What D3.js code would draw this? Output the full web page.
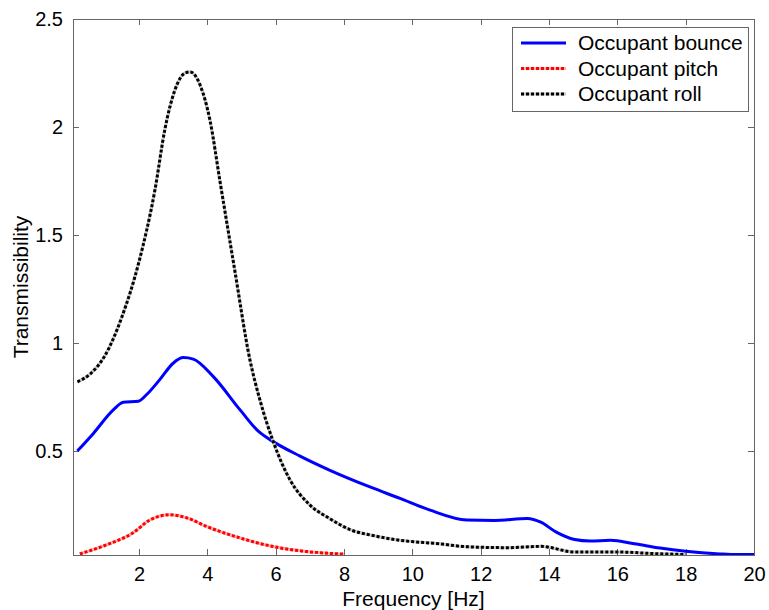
<!DOCTYPE html>
<html lang="en">
<head>
  <meta charset="UTF-8">
  <title>Transmissibility</title>
  <script src="https://d3js.org/d3.v7.min.js"></script>
  <style>
    body { margin: 0; background: #fff; }
    .axis path, .axis line { fill: none; stroke: #666; shape-rendering: crispEdges; }
    .axis text { font-family: Arial, "Liberation Sans", sans-serif; font-size: 20px; fill: #000; }
    .label { font-family: Arial, "Liberation Sans", sans-serif; font-size: 21px; fill: #000; }
    .legend text { font-family: Arial, "Liberation Sans", sans-serif; font-size: 21px; fill: #000; }
  </style>
</head>
<body>
  <div id="app"></div>
  <script>
    // bounce curve
    var bounceX = [0.2, 0.66, 1.25, 1.54, 1.98, 2.22, 2.61, 3.0, 3.3, 3.59, 4.17, 4.96, 5.5, 5.93, 6.7, 7.59, 8.76, 9.64, 10.5, 11.6, 12.4, 13.37, 13.76, 14.2, 14.75, 15.2, 15.8, 16.5, 17.25, 18, 19, 19.5, 20];
    var bounceY = [0.5, 0.58, 0.69, 0.725, 0.73, 0.76, 0.83, 0.906, 0.932, 0.925, 0.845, 0.69, 0.59, 0.543, 0.477, 0.41, 0.333, 0.28, 0.227, 0.18, 0.178, 0.187, 0.17, 0.125, 0.09, 0.083, 0.086, 0.07, 0.05, 0.035, 0.023, 0.02, 0.02];

    // pitch curve
    var pitchX = [0.27, 1.05, 1.82, 2.32, 2.9, 3.4, 3.98, 4.96, 5.93, 6.9, 7.88, 8.0];
    var pitchY = [0.023, 0.065, 0.12, 0.18, 0.204, 0.19, 0.15, 0.097, 0.057, 0.034, 0.023, 0.022];

    // roll curve
    var rollX = [0.2, 0.6, 1.0, 1.5, 2.0, 2.47, 2.76, 3.05, 3.35, 3.5, 3.8, 4.08, 4.37, 4.8, 5.25, 5.54, 5.93, 6.42, 7.0, 7.6, 8.2, 8.85, 9.64, 10.8, 11.6, 12.8, 13.76, 14.75, 16, 17, 18];
    var rollY = [0.82, 0.86, 0.94, 1.12, 1.375, 1.71, 1.99, 2.17, 2.25, 2.255, 2.19, 2.03, 1.75, 1.34, 0.92, 0.736, 0.543, 0.366, 0.25, 0.185, 0.134, 0.108, 0.086, 0.07, 0.056, 0.052, 0.058, 0.032, 0.032, 0.025, 0.02];

    var xTicks = [2, 4, 6, 8, 10, 12, 14, 16, 18, 20];
    var yTicks = [0.5, 1, 1.5, 2, 2.5];
    var legendNames = ["Occupant bounce", "Occupant pitch", "Occupant roll"];

    var width = 769, height = 610;
    var margin = { left: 73, top: 19, right: 15, bottom: 55 };
    var g_width = width - margin.left - margin.right;
    var g_height = height - margin.top - margin.bottom;

    var svg = d3.select("#app").append("svg")
      .attr("width", width)
      .attr("height", height);

    var g = svg.append("g")
      .attr("transform", "translate(" + margin.left + "," + margin.top + ")");

    var x = d3.scaleLinear().domain([0.07, 20]).range([0, g_width]);
    var y = d3.scaleLinear().domain([0.018, 2.5]).range([g_height, 0]);

    g.append("clipPath").attr("id", "clip")
      .append("rect").attr("width", g_width).attr("height", g_height);

    // box
    g.append("rect")
      .attr("width", g_width).attr("height", g_height)
      .attr("fill", "none").attr("stroke", "#666")
      .attr("shape-rendering", "crispEdges");

    // axes, ticks inward on all sides
    g.append("g").attr("class", "axis")
      .attr("transform", "translate(0," + g_height + ")")
      .call(d3.axisBottom(x).tickValues(xTicks).tickSizeInner(-6).tickSizeOuter(0).tickPadding(12).tickFormat(d3.format("d")))
      .call(function (s) { s.select(".domain").remove(); });
    g.append("g").attr("class", "axis")
      .call(d3.axisTop(x).tickValues(xTicks).tickSizeInner(-6).tickSizeOuter(0).tickFormat(""))
      .call(function (s) { s.select(".domain").remove(); });
    g.append("g").attr("class", "axis")
      .call(d3.axisLeft(y).tickValues(yTicks).tickSizeInner(-6).tickSizeOuter(0).tickPadding(10).tickFormat(function (d) { return d; }))
      .call(function (s) { s.select(".domain").remove(); });
    g.append("g").attr("class", "axis")
      .attr("transform", "translate(" + g_width + ",0)")
      .call(d3.axisRight(y).tickValues(yTicks).tickSizeInner(-6).tickSizeOuter(0).tickFormat(""))
      .call(function (s) { s.select(".domain").remove(); });

    var line = function (xs, ys) {
      return d3.line()
        .x(function (d, i) { return x(xs[i]); })
        .y(function (d) { return y(d); })
        .curve(d3.curveMonotoneX)(ys);
    };

    var lines = g.append("g").attr("clip-path", "url(#clip)");

    lines.append("path").attr("d", line(bounceX, bounceY))
      .attr("fill", "none").attr("stroke", "#0000ff").attr("stroke-width", 3);

    lines.append("path").attr("d", line(pitchX, pitchY))
      .attr("fill", "none").attr("stroke", "#ffb0b0").attr("stroke-width", 3);
    lines.append("path").attr("d", line(pitchX, pitchY))
      .attr("fill", "none").attr("stroke", "#ff0000").attr("stroke-width", 3)
      .attr("stroke-dasharray", "3,2");

    lines.append("path").attr("d", line(rollX, rollY))
      .attr("fill", "none").attr("stroke", "#c8c8c8").attr("stroke-width", 3);
    lines.append("path").attr("d", line(rollX, rollY))
      .attr("fill", "none").attr("stroke", "#000").attr("stroke-width", 3)
      .attr("stroke-dasharray", "3,2");

    // axis labels
    svg.append("text").attr("class", "label")
      .attr("x", margin.left + g_width / 2).attr("y", 606)
      .attr("text-anchor", "middle")
      .text("Frequency [Hz]");
    svg.append("text").attr("class", "label")
      .attr("transform", "translate(28," + (margin.top + g_height / 2) + ") rotate(-90)")
      .attr("text-anchor", "middle")
      .text("Transmissibility");

    // legend
    var legend = svg.append("g").attr("class", "legend");
    legend.append("rect")
      .attr("x", 512).attr("y", 27).attr("width", 236).attr("height", 84)
      .attr("fill", "#fff").attr("stroke", "#666")
      .attr("shape-rendering", "crispEdges");
    var styles = [
      { c: "#0000ff", bg: null, dash: null },
      { c: "#ff0000", bg: "#ffb0b0", dash: "3,2" },
      { c: "#000", bg: "#c8c8c8", dash: "3,2" }
    ];
    legendNames.forEach(function (name, i) {
      var ly = 43 + i * 25.5;
      if (styles[i].bg) {
        legend.append("line").attr("x1", 521).attr("x2", 566).attr("y1", ly).attr("y2", ly)
          .attr("stroke", styles[i].bg).attr("stroke-width", 3);
      }
      legend.append("line").attr("x1", 521).attr("x2", 566).attr("y1", ly).attr("y2", ly)
        .attr("stroke", styles[i].c).attr("stroke-width", 3)
        .attr("stroke-dasharray", styles[i].dash);
      legend.append("text").attr("x", 578).attr("y", ly + 7).text(name);
    });
  </script>
</body>
</html>
